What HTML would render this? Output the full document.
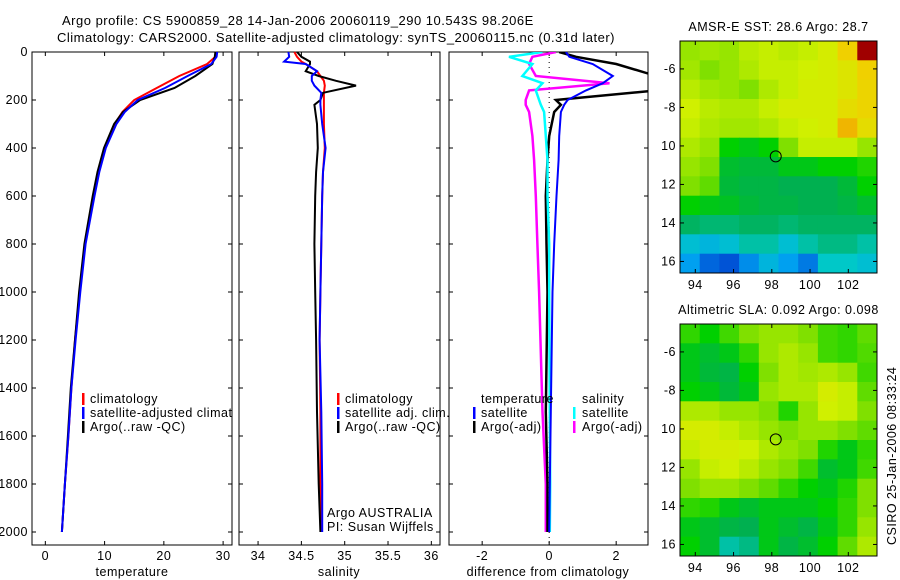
<!DOCTYPE html>
<html><head><meta charset="utf-8">
<style>
body{margin:0;background:#fff;}
svg{display:block;font-family:"Liberation Sans",sans-serif;}
text{font-size:12.5px;fill:#000;letter-spacing:0.5px;}
</style></head>
<body>
<svg id="chart" width="900" height="580" viewBox="0 0 900 580" xmlns="http://www.w3.org/2000/svg">
<defs><clipPath id="c1"><rect x="32" y="52" width="200" height="493"/></clipPath></defs>
<text x="62" y="25" style="font-size:13px">Argo profile: CS 5900859_28 14-Jan-2006 20060119_290 10.543S 98.206E</text>
<text x="57" y="42" style="font-size:13px">Climatology: CARS2000. Satellite-adjusted climatology: synTS_20060115.nc (0.31d later)</text>
<text transform="translate(896,545) rotate(-90)">CSIRO 25-Jan-2006 08:33:24</text>
<g id="g"></g>
</svg>
<script>
// ---- data ----
const tDepth=[0,20,50,100,150,200,250,300,400,500,600,800,1000,1200,1400,1600,1800,2000];
const tClim=[28.8,28.7,27.3,22.6,18.8,15.0,13.0,11.7,10.0,9.0,8.2,6.7,5.8,5.0,4.4,3.9,3.3,2.8];
const tSat=[29.0,28.9,28.0,24.0,20.2,15.6,13.4,12.0,10.2,9.1,8.3,6.8,5.9,5.1,4.4,3.9,3.3,2.8];
const tArgo=[28.7,28.6,28.2,25.3,21.8,16.0,13.1,11.6,9.9,8.8,8.0,6.6,5.7,5.0,4.3,3.8,3.3,2.8];
const sDepth=[0,20,40,50,80,100,120,140,170,200,220,300,400,500,600,800,1000,1200,1500,1800,2000];
const sClim=[34.42,34.45,34.5,34.55,34.68,34.72,34.76,34.77,34.76,34.76,34.76,34.76,34.77,34.75,34.74,34.73,34.72,34.71,34.72,34.72,34.73];
const sSat=[34.35,34.36,34.3,34.55,34.68,34.62,34.62,34.65,34.73,34.72,34.72,34.74,34.78,34.75,34.74,34.73,34.72,34.71,34.73,34.74,34.74];
const sArgo=[34.45,34.5,34.6,34.6,34.55,34.7,34.9,35.13,34.75,34.72,34.65,34.68,34.69,34.67,34.66,34.65,34.66,34.67,34.68,34.7,34.72];
const dDepth=[0,20,50,100,130,160,200,220,250,350,450,600,800,1000,1500,1800,2000];
const dTArgo=[0.3,0.8,2.0,3.2,3.2,3.2,0.2,0.35,0.15,0.0,-0.05,-0.1,-0.08,-0.05,-0.1,-0.05,-0.05];
const dTSat=[0.5,0.6,1.3,1.9,1.6,1.1,0.55,0.45,0.35,0.3,0.28,0.22,0.15,0.1,0.05,0.02,0.0];
const dSSat=[-0.2,-1.2,-0.5,-0.8,-0.2,-0.4,-0.3,-0.25,-0.15,-0.1,-0.05,-0.05,0.0,0.0,0.02,0.03,0.02];
const dSArgo=[0.2,-0.5,-0.6,-0.4,1.8,-0.6,-0.7,-0.7,-0.6,-0.5,-0.45,-0.4,-0.35,-0.3,-0.2,-0.1,-0.1];
const depthTicks=[0,200,400,600,800,1000,1200,1400,1600,1800,2000];
const tTicks=[0,10,20,30];
const sTicks=[34,34.5,35,35.5,36];
const sTickLabels=["34","34.5","35","35.5","36"];
const dTicks=[-2,0,2];
const lonTicks=[94,96,98,100,102];
const latTicks=[-6,-8,-10,-12,-14,-16];
const latTickLabels=["-6","-8","10","12","14","16"];
const sstGrid=[
[.62,.63,.62,.65,.66,.65,.66,.68,.75,.95],
[.63,.60,.62,.64,.66,.66,.67,.68,.70,.75],
[.65,.63,.62,.60,.64,.66,.68,.68,.70,.74],
[.67,.65,.64,.64,.66,.68,.68,.68,.72,.74],
[.66,.64,.63,.63,.64,.66,.67,.68,.78,.72],
[.64,.62,.52,.50,.52,.60,.66,.66,.66,.62],
[.62,.60,.48,.47,.47,.50,.50,.52,.52,.54],
[.60,.58,.47,.46,.46,.45,.45,.45,.47,.52],
[.52,.50,.49,.47,.46,.46,.45,.45,.46,.48],
[.44,.43,.43,.44,.44,.43,.44,.44,.44,.44],
[.36,.34,.36,.40,.40,.36,.40,.42,.42,.40],
[.30,.24,.22,.28,.34,.30,.26,.38,.38,.36]];
const slaGrid=[
[.55,.52,.56,.60,.62,.62,.60,.56,.55,.58],
[.50,.48,.50,.55,.62,.64,.62,.56,.55,.57],
[.50,.47,.46,.52,.60,.64,.63,.64,.62,.56],
[.52,.50,.47,.50,.62,.64,.64,.68,.66,.58],
[.64,.64,.62,.62,.60,.54,.62,.67,.66,.60],
[.68,.68,.66,.64,.62,.60,.62,.62,.60,.58],
[.66,.68,.68,.67,.64,.62,.60,.54,.50,.55],
[.62,.66,.67,.65,.62,.60,.56,.48,.50,.56],
[.60,.62,.62,.60,.58,.55,.52,.50,.54,.60],
[.55,.54,.50,.48,.50,.50,.50,.52,.55,.60],
[.50,.48,.46,.45,.50,.48,.46,.50,.55,.62],
[.52,.48,.40,.42,.50,.46,.48,.52,.58,.64]];

// ---- helpers ----
const NS="http://www.w3.org/2000/svg";
const G=document.getElementById('g');
function mk(tag,attrs,parent){const e=document.createElementNS(NS,tag);for(const k in attrs)e.setAttribute(k,attrs[k]);(parent||G).appendChild(e);return e;}
const yTop=52,yPerM=0.24,boxBottom=545;
function yD(d){return yTop+d*yPerM;}
function panel(name,x0,x1,vmin,vmax){
  const fx=v=>x0+(v-vmin)/(vmax-vmin)*(x1-x0);
  const b=mk('rect',{x:x0,y:yTop,width:x1-x0,height:boxBottom-yTop,fill:'none',stroke:'#000','stroke-width':1});
  
  
  return fx;
}
function line(fx,depths,vals,color,w,name){
  const p=depths.map((d,i)=>fx(vals[i]).toFixed(1)+','+yD(d).toFixed(1)).join(' ');
  const e=mk('polyline',{points:p,fill:'none',stroke:color,'stroke-width':w});
  
  
}
function xTicks(fx,ticks,labels,name){
  ticks.forEach((t,i)=>{
    const x=fx(t);
    mk('line',{x1:x,x2:x,y1:boxBottom,y2:boxBottom-4,stroke:'#000'});
    mk('line',{x1:x,x2:x,y1:yTop,y2:yTop+4,stroke:'#000'});
    const tx=mk('text',{x:x,y:560,'text-anchor':'middle'});tx.textContent=labels?labels[i]:String(t);
    
    
  });
}
function txt(x,y,s,name,anchor,parent){const t=mk('text',{x:x,y:y,'text-anchor':anchor||'start'},parent);t.textContent=s;
  
  return t;}
function legendMark(x,y,color){mk('rect',{x:x,y:y-10,width:2.5,height:12,fill:color});}

// panel 1 temperature
const fT=panel('temperature-panel',32,232,-2.25,31.5);
depthTicks.forEach(d=>{const y=yD(d);mk('line',{x1:32,x2:36,y1:y,y2:y,stroke:'#000'});mk('line',{x1:228,x2:232,y1:y,y2:y,stroke:'#000'});
  txt(28,y+4,String(d),'depth-tick-label','end');});
xTicks(fT,tTicks,null,'temperature');
txt(132,576,'temperature','temperature-axis-title','middle');
line(fT,tDepth,tClim,'#f00',2,'temperature-climatology-line');
line(fT,tDepth,tArgo,'#000',2,'temperature-argo-line');
line(fT,tDepth,tSat,'#00f',2,'temperature-satellite-line');
const g1=mk('g',{'clip-path':'url(#c1)'});
legendMark(82,403,'#f00');txt(90,403,'climatology','legend-climatology','start',g1);
legendMark(82,417,'#00f');txt(90,417,'satellite-adjusted climatology','legend-satellite-adjusted','start',g1);
legendMark(82,431,'#000');txt(90,431,'Argo(..raw -QC)','legend-argo','start',g1);

// panel 2 salinity
const fS=panel('salinity-panel',239,440,33.78,36.1);
depthTicks.forEach(d=>{const y=yD(d);mk('line',{x1:239,x2:243,y1:y,y2:y,stroke:'#000'});mk('line',{x1:436,x2:440,y1:y,y2:y,stroke:'#000'});});
xTicks(fS,sTicks,sTickLabels,'salinity');
txt(339,576,'salinity','salinity-axis-title','middle');
line(fS,sDepth,sClim,'#f00',2,'salinity-climatology-line');
line(fS,sDepth,sArgo,'#000',2,'salinity-argo-line');
line(fS,sDepth,sSat,'#00f',2,'salinity-satellite-line');
legendMark(337,403,'#f00');txt(345,403,'climatology','legend-climatology-sal');
legendMark(337,417,'#00f');txt(345,417,'satellite adj. clim.','legend-satellite-sal');
legendMark(337,431,'#000');txt(345,431,'Argo(..raw -QC)','legend-argo-sal');
txt(327,517,'Argo AUSTRALIA','float-owner-label');
txt(327,531,'PI: Susan Wijffels','float-pi-label');

// panel 3 differences
const fD=panel('difference-panel',449,648,-2.99,2.95);
depthTicks.forEach(d=>{const y=yD(d);mk('line',{x1:449,x2:453,y1:y,y2:y,stroke:'#000'});mk('line',{x1:644,x2:648,y1:y,y2:y,stroke:'#000'});});
xTicks(fD,dTicks,null,'difference');
txt(548,576,'difference from climatology','difference-axis-title','middle');
mk('line',{x1:fD(0),x2:fD(0),y1:yTop,y2:boxBottom,stroke:'#000','stroke-dasharray':'1,4'});
const clip=mk('clipPath',{id:'c3'});mk('rect',{x:449,y:yTop,width:199,height:boxBottom-yTop},clip);
const gd=mk('g',{'clip-path':'url(#c3)'});
function line3(depths,vals,color,w,name){const p=depths.map((d,i)=>fD(vals[i]).toFixed(1)+','+yD(d).toFixed(1)).join(' ');
  const e=mk('polyline',{points:p,fill:'none',stroke:color,'stroke-width':w},gd);
  
  }
line3(dDepth,dSArgo,'#f0f',2.5,'salinity-argo-diff-line');
line3(dDepth,dTArgo,'#000',2.5,'temperature-argo-diff-line');
line3(dDepth,dSSat,'#0ff',2.5,'salinity-satellite-diff-line');
line3(dDepth,dTSat,'#00f',2,'temperature-satellite-diff-line');
txt(481,403,'temperature','legend-temperature-header');
txt(582,403,'salinity','legend-salinity-header');
legendMark(473,417,'#00f');txt(481,417,'satellite','legend-temp-satellite');
legendMark(473,431,'#000');txt(481,431,'Argo(-adj)','legend-temp-argo');
legendMark(573,417,'#0ff');txt(582,417,'satellite','legend-sal-satellite');
legendMark(573,431,'#f0f');txt(582,431,'Argo(-adj)','legend-sal-argo');

// maps
const stops=[[0.2,[0,64,208]],[0.3,[0,160,240]],[0.38,[0,200,200]],[0.45,[0,176,80]],[0.52,[0,208,0]],[0.6,[128,224,0]],[0.67,[208,240,0]],[0.75,[240,208,0]],[0.82,[240,144,0]],[0.9,[160,0,0]]];
function cmap(v){if(v<=stops[0][0])return 'rgb('+stops[0][1]+')';
  for(let i=1;i<stops.length;i++){if(v<=stops[i][0]){const a=stops[i-1],b=stops[i],t=(v-a[0])/(b[0]-a[0]);
    return 'rgb('+a[1].map((c,k)=>Math.round(c+(b[1][k]-c)*t)).join(',')+')';}}
  return 'rgb('+stops[stops.length-1][1]+')';}
function map(name,y0,grid,title){
  const x0=680,x1=877,y1=y0+232;
  const lonMin=93.2,lonMax=103.5,latMax=-4.55,latMin=-16.6;
  const fx=l=>x0+(l-lonMin)/(lonMax-lonMin)*(x1-x0);
  const fy=l=>y0+(latMax-l)/(latMax-latMin)*(y1-y0);
  const rows=grid.length,cols=grid[0].length,cw=(x1-x0)/cols,ch=(y1-y0)/rows;
  grid.forEach((r,i)=>r.forEach((v,j)=>{
    const c=mk('rect',{x:(x0+j*cw).toFixed(1),y:(y0+i*ch).toFixed(1),width:(cw+0.5).toFixed(1),height:(ch+0.5).toFixed(1),fill:cmap(v)});
    
    
  }));
  const b=mk('rect',{x:x0,y:y0,width:x1-x0,height:y1-y0,fill:'none',stroke:'#000'});
  
  
  lonTicks.forEach(l=>{const x=fx(l);mk('line',{x1:x,x2:x,y1:y1,y2:y1-4,stroke:'#000'});mk('line',{x1:x,x2:x,y1:y0,y2:y0+4,stroke:'#000'});
    txt(x,y1+16,String(l),name+'-lon-label','middle');});
  latTicks.forEach((l,i)=>{const y=fy(l);mk('line',{x1:x0,x2:x0+4,y1:y,y2:y,stroke:'#000'});mk('line',{x1:x1-4,x2:x1,y1:y,y2:y,stroke:'#000'});
    txt(x0-4,y+4,latTickLabels[i],name+'-lat-label','end');});
  mk('circle',{cx:fx(98.206),cy:fy(-10.543),r:5.5,fill:'none',stroke:'#000'});
  txt((x0+x1)/2,y0-10,title,name+'-title','middle');
}
map('sst-map',41,sstGrid,'AMSR-E SST: 28.6 Argo: 28.7');
map('sla-map',324,slaGrid,'Altimetric SLA: 0.092 Argo: 0.098');
</script>
</body></html>
